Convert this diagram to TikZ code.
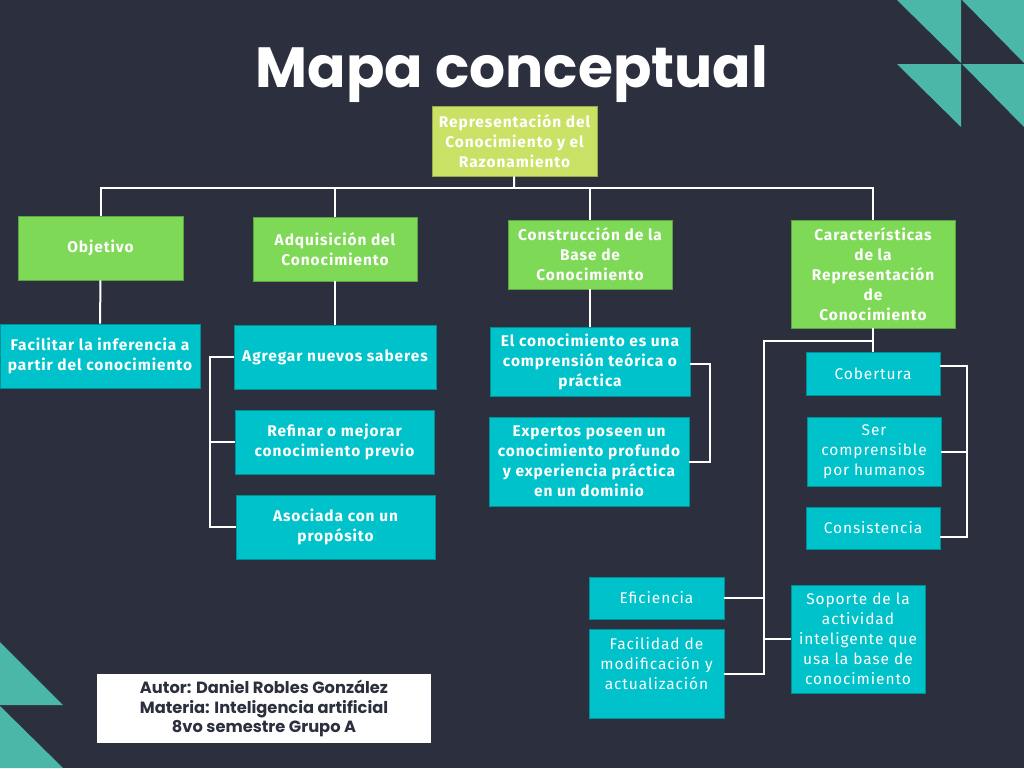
\documentclass[tikz,border=0pt]{standalone}
\usepackage{fontspec}
\setmainfont{Fira Sans}
\newfontfamily\titlefont{Poppins}
\usetikzlibrary{positioning}
\definecolor{fondo}{HTML}{2C2F3E}
\definecolor{teal}{HTML}{4BB7A8}
\definecolor{verde}{HTML}{7ED957}
\definecolor{lima}{HTML}{C9E265}
\definecolor{cian}{HTML}{00C2CB}
\definecolor{tinta}{HTML}{2C2F3E}

\begin{document}
\begin{tikzpicture}
      [x=0.75pt,y=-0.75pt,
       caja/.style={rectangle,fill=#1,draw=#1!75!black,line width=0.4pt,text=white,align=center,inner sep=2pt,
                    font=\bfseries\addfontfeatures{LetterSpace=6}\fontsize{11.6}{15}\selectfont},
       rasgo/.style={caja=cian,font=\addfontfeatures{LetterSpace=6}\fontsize{11.6}{15}\selectfont},
       link/.style={draw=white,line width=1.5pt}]
      % background and corners
      \fill[fondo] (0,0) rectangle (1024,768);
      \useasboundingbox (0,0) rectangle (1024,768);
      \fill[teal] (897,0) -- (961,0) -- (961,63) -- cycle;
      \fill[teal] (962,0) -- (1024,0) -- (1024,63) -- cycle;
      \fill[teal] (897,64) -- (961,64) -- (961,127) -- cycle;
      \fill[teal] (962,64) -- (1024,64) -- (1024,127) -- cycle;
      \fill[teal] (0,642) -- (63,705) -- (0,705) -- cycle;
      \fill[teal] (0,706) -- (63,768) -- (0,768) -- cycle;
      % title
      \node[anchor=base,text=white,inner sep=0pt,font=\titlefont\bfseries\fontsize{42.5}{46}\selectfont] (titulo) at (512,87) {Mapa conceptual};
      % place nodes
      \node[caja=lima,minimum width=123.75pt,minimum height=52.5pt] (raiz) at (514.5,141) {Representación del\\Conocimiento y el\\Razonamiento};
      \node[caja=verde,minimum width=123.75pt,minimum height=48pt] (obj) at (100.5,248) {Objetivo};
      \node[caja=verde,minimum width=123pt,minimum height=48pt] (adq) at (335,249) {Adquisición del\\Conocimiento};
      \node[caja=verde,minimum width=123pt,minimum height=51.75pt] (cons) at (590,254.5) {Construcción de la\\Base de\\Conocimiento};
      \node[caja=verde,minimum width=123pt,minimum height=81pt] (car) at (873,274) {Características\\de la\\Representación\\de\\Conocimiento};
      \node[caja=cian,minimum width=150pt,minimum height=48pt] (fac) at (100,356) {Facilitar la inferencia a\\partir del conocimiento};
      \node[caja=cian,minimum width=151.5pt,minimum height=48pt] (agr) at (335,357) {Agregar nuevos saberes};
      \node[caja=cian,minimum width=149.25pt,minimum height=48pt] (ref) at (334.5,442) {Refinar o mejorar\\conocimiento previo};
      \node[caja=cian,minimum width=149.25pt,minimum height=48pt] (aso) at (335.5,527) {Asociada con un\\propósito};
      \node[caja=cian,minimum width=150pt,minimum height=51.75pt] (teo) at (590,361.5) {El conocimiento es una\\comprensión teórica o\\práctica};
      \node[caja=cian,minimum width=150pt,minimum height=66.75pt] (exp) at (589,461.5) {Expertos poseen un\\conocimiento profundo\\y experiencia práctica\\en un dominio};
      \node[rasgo,minimum width=100.5pt,minimum height=32.25pt] (cob) at (873,373.5) {Cobertura};
      \node[rasgo,minimum width=100.5pt,minimum height=51.75pt] (ser) at (874,451.5) {Ser\\comprensible\\por humanos};
      \node[rasgo,minimum width=100.5pt,minimum height=31.5pt] (cst) at (873,528) {Consistencia};
      \node[rasgo,minimum width=101.25pt,minimum height=31.5pt] (efi) at (656.5,598) {Eficiencia};
      \node[rasgo,minimum width=101.25pt,minimum height=66.75pt] (mod) at (656.5,673.5) {Facilidad de\\modificación y\\actualización\\\mbox{}};
      \node[rasgo,minimum width=100.5pt,minimum height=81pt] (sop) at (858,639) {Soporte de la\\actividad\\inteligente que\\usa la base de\\conocimiento};
      \node[rectangle,fill=white,text=tinta,align=center,minimum width=250.5pt,minimum height=51.75pt,
            font=\titlefont\bfseries\fontsize{12.2}{14.5}\selectfont] (autor) at (264,708.5)
            {Autor: Daniel Robles González\\Materia: Inteligencia artificial\\8vo semestre Grupo A};
      % add edges
      \coordinate (bus) at (514,188);
      \coordinate (cj) at (873,341);
      \coordinate (cl) at (764,341);
      \draw[link] (raiz) -- (bus);
      \foreach \n in {obj,adq,cons,car}
        \draw[link] (\n.north) |- (bus);
      \draw[link] (obj) -- (fac);
      \draw[link] (adq) -- (agr);
      \draw[link] (agr.west) -- ++(-24,0) |- (aso.west);
      \draw[link] (ref.west) -- ++(-24,0);
      \draw[link] (cons.south) -- (teo.north);
      \draw[link] ([yshift=-2pt]teo.east) -- ++(20,0) |- (exp.east);
      \draw[link] (car) -- (cob);
      \draw[link] ([yshift=6pt]cob.east) -- ++(27,0) |- ([yshift=-7pt]cst.east);
      \draw[link] (ser.east) -- ++(26,0);
      \draw[link] (cj) -- (cl) |- (mod.east);
      \draw[link] (efi.east) -- (efi.east -| cl);
      \draw[link] (sop.west) -- (sop.west -| cl);
    \end{tikzpicture}
\end{document}
